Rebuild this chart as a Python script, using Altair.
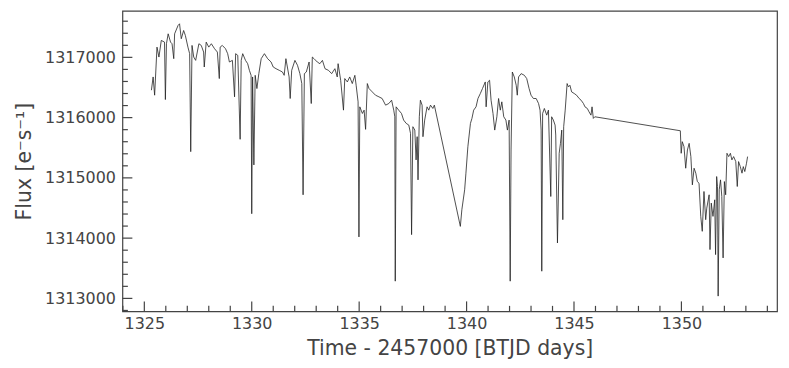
import altair as alt
import pandas as pd

# Light curve (BTJD days, flux e-/s)
time = [
    1325.33, 1325.41, 1325.48, 1325.59, 1325.68, 1325.79, 1325.94, 1325.98, 1326.03, 1326.11,
    1326.22, 1326.29, 1326.37, 1326.41, 1326.57, 1326.64, 1326.72, 1326.83, 1326.91, 1327.03,
    1327.11, 1327.16, 1327.22, 1327.30, 1327.39, 1327.54, 1327.65, 1327.76, 1327.79, 1327.88,
    1328.00, 1328.12, 1328.27, 1328.40, 1328.49, 1328.53, 1328.63, 1328.78, 1328.88, 1328.96,
    1329.10, 1329.20, 1329.25, 1329.35, 1329.46, 1329.51, 1329.58, 1329.71, 1329.81, 1329.89,
    1329.97, 1330.00, 1330.04, 1330.10, 1330.16, 1330.24, 1330.33, 1330.44, 1330.59, 1330.74,
    1330.90, 1331.00, 1331.13, 1331.28, 1331.43, 1331.51,
    1331.59, 1331.74, 1331.79, 1331.86, 1332.01, 1332.13, 1332.24, 1332.33, 1332.39, 1332.45,
    1332.54, 1332.67, 1332.77, 1332.82, 1332.90, 1333.05, 1333.17, 1333.29, 1333.41, 1333.57,
    1333.72, 1333.87, 1333.98, 1334.02, 1334.14, 1334.27, 1334.33, 1334.45, 1334.56, 1334.68,
    1334.80, 1334.86, 1334.95, 1334.99, 1335.03, 1335.15, 1335.23, 1335.30, 1335.38, 1335.46,
    1335.61, 1335.76, 1335.92, 1336.07, 1336.23, 1336.38, 1336.51, 1336.61, 1336.66, 1336.68,
    1336.72, 1336.84, 1336.97, 1337.07, 1337.19, 1337.31, 1337.39, 1337.44, 1337.50, 1337.59,
    1337.65, 1337.70, 1337.74, 1337.80, 1337.85, 1337.93, 1337.97, 1338.05, 1338.16, 1338.24,
    1338.32, 1338.43, 1338.50,
    1339.71, 1339.78, 1339.91, 1339.97, 1340.06, 1340.18, 1340.25, 1340.33, 1340.44, 1340.53,
    1340.64, 1340.74, 1340.87, 1340.91, 1340.99, 1341.07, 1341.14, 1341.23, 1341.31, 1341.41,
    1341.49, 1341.57, 1341.64, 1341.73, 1341.83, 1341.90, 1341.98, 1342.03, 1342.07, 1342.13,
    1342.22, 1342.31, 1342.36, 1342.42, 1342.54, 1342.69, 1342.80, 1342.91, 1343.00, 1343.11,
    1343.24, 1343.35, 1343.42, 1343.47, 1343.50, 1343.54, 1343.62, 1343.73, 1343.81, 1343.92,
    1343.96, 1344.04, 1344.12, 1344.15, 1344.23, 1344.31, 1344.37, 1344.43, 1344.48, 1344.52,
    1344.59, 1344.68, 1344.74, 1344.81, 1344.89, 1345.01, 1345.12, 1345.24, 1345.33, 1345.44,
    1345.51, 1345.62, 1345.70, 1345.79, 1345.84, 1345.90, 1345.97,
    1349.95, 1349.99, 1350.04, 1350.12, 1350.20, 1350.28, 1350.36, 1350.44, 1350.51, 1350.59,
    1350.67, 1350.74, 1350.82, 1350.90, 1350.97, 1351.05, 1351.13, 1351.18, 1351.29, 1351.33,
    1351.39, 1351.47, 1351.55, 1351.59, 1351.64, 1351.68, 1351.71, 1351.76, 1351.82, 1351.88,
    1351.94, 1352.00, 1352.06, 1352.12, 1352.20, 1352.28, 1352.35, 1352.43, 1352.53, 1352.60,
    1352.66, 1352.74, 1352.82, 1352.88, 1352.95, 1353.03, 1353.08,
]
flux = [
    1316455, 1316675, 1316372, 1317170, 1317005, 1317281, 1317253, 1316300, 1317226, 1317391,
    1317253, 1317226, 1316978, 1317391, 1317529, 1317557, 1317309, 1317446, 1317364, 1317170,
    1317061, 1315435, 1317198, 1317005, 1316950, 1317226, 1317198, 1317088, 1316840, 1317253,
    1317170, 1317226, 1317143, 1317088, 1316648, 1317170, 1317198, 1317143, 1317061, 1316923,
    1316950, 1316345, 1317061, 1317033, 1315640, 1316950, 1317061, 1316950, 1316895, 1316785,
    1316702, 1314405, 1316675, 1315215, 1316702, 1316482, 1316730, 1316978, 1317061, 1316978,
    1316923, 1316840, 1316812, 1316785, 1316757, 1316702,
    1316978, 1316675, 1316317, 1316785, 1316950, 1316868, 1316730, 1316565, 1314719, 1316730,
    1316757, 1316923, 1316234, 1317005, 1316978, 1316923, 1316895, 1316950, 1316812, 1316785,
    1316730, 1316812, 1316675, 1316895, 1316620, 1316124, 1316648, 1316592, 1316675, 1316565,
    1316702, 1316537, 1316262, 1314020, 1316179, 1316069, 1316124, 1315805, 1316565, 1316482,
    1316427, 1316372, 1316345, 1316317, 1316207, 1316234, 1316289, 1316124, 1316014, 1313286,
    1316179, 1316124, 1316069, 1315959, 1315904, 1315876, 1315739, 1314058, 1315849, 1315794,
    1315298, 1315684, 1314967, 1316014, 1316289, 1316207, 1315683, 1315959, 1316179, 1316124,
    1316207, 1316152, 1316207,
    1314195, 1314471, 1314802, 1315078, 1315517, 1315904, 1315987, 1316124, 1316179, 1316317,
    1316400, 1316482, 1316592, 1316179, 1316592, 1316620, 1316289, 1316069, 1315793, 1316014,
    1316317, 1316124, 1316262, 1316014, 1315959, 1315793, 1315959, 1313286, 1315463, 1316757,
    1316675, 1316537, 1316372, 1316675, 1316730, 1316702, 1316648, 1316482, 1316372, 1316317,
    1316317, 1316234, 1316124, 1315793, 1313451, 1316069, 1316152, 1316041, 1316124, 1314691,
    1316014, 1315959, 1315876, 1315711, 1313920, 1315408, 1315573, 1315793, 1314306, 1315848,
    1316124, 1316565, 1316510, 1316537, 1316427, 1316400, 1316372, 1316317, 1316289, 1316234,
    1316179, 1316152, 1316096, 1316041, 1316179, 1315987, 1316014,
    1315782, 1315408, 1315601, 1315518, 1315160, 1315463, 1315573, 1315353, 1314884, 1315160,
    1315078, 1314939, 1314911, 1314361, 1314113, 1314774, 1314306, 1314498, 1314719, 1313810,
    1314581, 1314361, 1314636, 1313727, 1315022, 1314857, 1313038, 1314802, 1314967, 1314691,
    1313672, 1314939, 1314719, 1315408, 1315353, 1315408, 1315298, 1315353, 1315270, 1314857,
    1315270, 1315187, 1315078, 1315187, 1315105, 1315243, 1315353,
]

x_major = [1325, 1330, 1335, 1340, 1345, 1350]
x_minor = [1324, 1326, 1327, 1328, 1329, 1331, 1332, 1333, 1334, 1336, 1337, 1338, 1339,
           1341, 1342, 1343, 1344, 1346, 1347, 1348, 1349, 1351, 1352, 1353, 1354]
y_major = [1313000, 1314000, 1315000, 1316000, 1317000]
y_minor = [1312800, 1313200, 1313400, 1313600, 1313800, 1314200, 1314400, 1314600, 1314800,
           1315200, 1315400, 1315600, 1315800, 1316200, 1316400, 1316600, 1316800,
           1317200, 1317400, 1317600]

W, H = 658, 302
FONT = "DejaVu Sans"
TXT = "#444444"
MAJ, MIN = 10, 5.5

xscale = alt.Scale(domain=[1323.98, 1354.45], nice=False, zero=False)
yscale = alt.Scale(domain=[1312785, 1317771], nice=False, zero=False)

xaxis = alt.Axis(values=x_major, format="d", ticks=False, domain=False, grid=False,
                 labelFont=FONT, labelFontSize=16, labelColor=TXT, labelPadding=4,
                 title="Time - 2457000 [BTJD days]", titleFont=FONT, titleFontSize=20.5,
                 titleFontWeight="normal", titleColor=TXT, titlePadding=7)
yaxis = alt.Axis(values=y_major, format="d", ticks=False, domain=False, grid=False,
                 labelFont=FONT, labelFontSize=16, labelColor=TXT, labelPadding=7,
                 title="Flux [e⁻s⁻¹]", titleFont=FONT, titleFontSize=20.5,
                 titleFontWeight="normal", titleColor=TXT, titlePadding=10)

xenc = alt.X("t:Q", scale=xscale, axis=xaxis)
yenc = alt.Y("f:Q", scale=yscale, axis=yaxis)

df = pd.DataFrame({"t": time, "f": flux})

line = alt.Chart(df).mark_line(color="#222222", strokeWidth=0.8, interpolate="linear").encode(
    x=xenc, y=yenc
)

tick_color = "#444444"
TW = 1.2
xmaj = alt.Chart(pd.DataFrame({"t": x_major})).mark_rule(color=tick_color, strokeWidth=TW).encode(
    x=xenc, y=alt.value(H), y2=alt.value(H - MAJ))
xmin = alt.Chart(pd.DataFrame({"t": x_minor})).mark_rule(color=tick_color, strokeWidth=TW).encode(
    x=xenc, y=alt.value(H), y2=alt.value(H - MIN))
ymaj = alt.Chart(pd.DataFrame({"f": y_major})).mark_rule(color=tick_color, strokeWidth=TW).encode(
    y=yenc, x=alt.value(0), x2=alt.value(MAJ))
ymin = alt.Chart(pd.DataFrame({"f": y_minor})).mark_rule(color=tick_color, strokeWidth=TW).encode(
    y=yenc, x=alt.value(0), x2=alt.value(MIN))

chart = alt.layer(line, xmaj, xmin, ymaj, ymin).properties(
    width=W, height=H,
    autosize=alt.AutoSizeParams(type="none"),
    padding={"left": 115, "top": 2, "right": 4, "bottom": 50},
    background="white",
).configure_view(stroke="#444444", strokeWidth=1.2)

chart.save("out.html", embed_options={"renderer": "svg", "actions": False})
